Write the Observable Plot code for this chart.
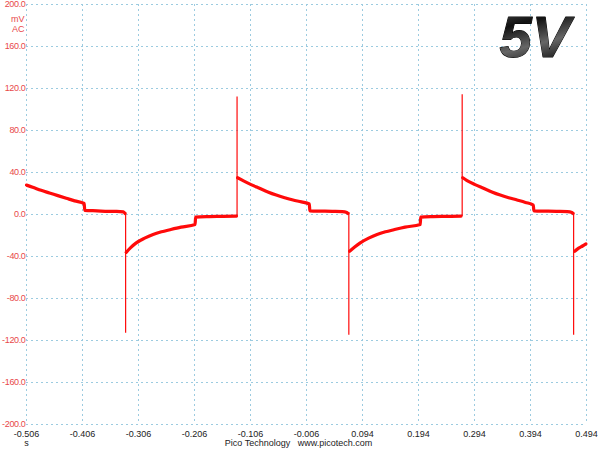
<!DOCTYPE html>
<html><head><meta charset="utf-8">
<script src="https://cdn.jsdelivr.net/npm/d3@7"></script>
<script src="https://cdn.jsdelivr.net/npm/@observablehq/plot@0.6"></script>
<style>html,body{margin:0;padding:0;background:#fff;}</style>
</head><body><div id="chart"></div>
<script>
// Tick labels
const xTicks = [-0.506, -0.406, -0.306, -0.206, -0.106, -0.006, 0.094, 0.194, 0.294, 0.394, 0.494];
const yTicks = [-200, -160, -120, -80, -40, 0, 40, 80, 120, 160, 200];

// Noisy trace key points (s, mV) with segment ids
const traceT = [
  -0.506, -0.495, -0.48, -0.465, -0.45, -0.435, -0.42, -0.403, -0.402, -0.38, -0.36, -0.345, -0.333, -0.330,
  -0.328, -0.32, -0.31, -0.295, -0.28, -0.265, -0.25, -0.23, -0.205, -0.204, -0.18, -0.155, -0.131,
  -0.129, -0.12, -0.105, -0.09, -0.075, -0.06, -0.045, -0.03, -0.015, -0.001, 0.000, 0.02, 0.04, 0.058, 0.066, 0.068,
  0.071, 0.08, 0.09, 0.105, 0.12, 0.135, 0.15, 0.17, 0.197, 0.198, 0.22, 0.245, 0.270,
  0.273, 0.28, 0.295, 0.31, 0.325, 0.34, 0.355, 0.37, 0.385, 0.399, 0.400, 0.42, 0.44, 0.46, 0.468, 0.470,
  0.473, 0.48, 0.487, 0.493
];
const traceV = [
  28, 26, 23, 20.5, 18, 15.5, 13, 10.5, 4, 3.5, 3, 3, 2.5, 1,
  -36, -31.5, -27, -22.5, -19, -16.5, -14.5, -12, -9.5, -2.5, -2, -1.8, -1.5,
  35, 32.5, 28.5, 25, 21.5, 18.5, 16, 13.8, 12, 10, 3.5, 3.2, 3, 2.8, 2, 1,
  -35, -31, -27, -22.5, -19, -16.5, -14.5, -12, -9.5, -2.5, -2, -1.8, -1.5,
  35, 32.5, 28.5, 25, 21.5, 18.5, 16, 13.8, 11.5, 9, 3.5, 3.2, 3, 2.8, 2, 1,
  -35, -32, -30, -28
];
const traceSeg = [
  1, 1, 1, 1, 1, 1, 1, 1, 1, 1, 1, 1, 1, 1,
  2, 2, 2, 2, 2, 2, 2, 2, 2, 2, 2, 2, 2,
  3, 3, 3, 3, 3, 3, 3, 3, 3, 3, 3, 3, 3, 3, 3, 3,
  4, 4, 4, 4, 4, 4, 4, 4, 4, 4, 4, 4, 4,
  5, 5, 5, 5, 5, 5, 5, 5, 5, 5, 5, 5, 5, 5, 5, 5,
  6, 6, 6, 6
];

// Spikes (s, from mV, to mV)
const spikeT = [-0.329, -0.130, 0.0696, 0.272, 0.471];
const spikeFrom = [2, -2, 2, -2, 2];
const spikeTo = [-113, 112, -115, 114, -115];

const trace = traceT.map((t, i) => ({t, v: traceV[i], seg: traceSeg[i]}));
const spikes = spikeT.map((t, i) => ({t, y1: spikeFrom[i], y2: spikeTo[i]}));

const red = "#ff0a0a";
const labelRed = "#e8484a";
const gridColor = "#9ccbe0";

const plot = Plot.plot({
  width: 600, height: 450,
  marginTop: 4, marginRight: 14, marginBottom: 26, marginLeft: 26,
  x: {domain: [-0.506, 0.494], label: null},
  y: {domain: [-200, 200], label: null},
  style: {fontFamily: "'Liberation Sans', Arial, sans-serif", background: "#fff", overflow: "visible"},
  marks: [
    Plot.gridX(xTicks, {stroke: gridColor, strokeOpacity: 1, strokeDasharray: "2,3"}),
    Plot.gridY(yTicks, {stroke: gridColor, strokeOpacity: 1, strokeDasharray: "2,3"}),
    Plot.axisX(xTicks, {tickSize: 0, tickPadding: 6, tickFormat: d => d.toFixed(3), fontSize: 9, fill: "#222", label: null}),
    Plot.axisY(yTicks, {tickSize: 0, tickPadding: 1, tickFormat: d => d.toFixed(1), fontSize: 9, fill: labelRed, label: null, className: "yax"}),
    Plot.line(trace, {x: "t", y: "v", z: "seg", stroke: red, strokeWidth: 3.2, curve: "monotone-x"}),
    Plot.ruleX(spikes, {x: "t", y1: "y1", y2: "y2", stroke: red, strokeWidth: 1.2}),
    Plot.text(["mV"], {frameAnchor: "top-left", dx: -2, dy: 11, textAnchor: "end", fill: labelRed, fontSize: 9}),
    Plot.text(["AC"], {frameAnchor: "top-left", dx: -2, dy: 21, textAnchor: "end", fill: labelRed, fontSize: 9}),
    Plot.text(["s"], {frameAnchor: "bottom-left", dx: 0, dy: 21, textAnchor: "middle", fill: "#222", fontSize: 9}),
    Plot.text(["Pico Technology   www.picotech.com"], {frameAnchor: "bottom", dx: -8, dy: 21, fill: "#222", fontSize: 9}),
    Plot.text(["5V"], {frameAnchor: "top-right", dx: -16, dy: 34, textAnchor: "end", lineAnchor: "middle",
      fontSize: 58, fontWeight: "bold", fontStyle: "italic", fill: "#222", stroke: "#000", strokeWidth: 1,
      fontFamily: "'Liberation Sans', Arial, sans-serif", className: "big5v"})
  ]
});

// metallic gradient for the "5V" label
const svg = d3.select(plot);
const defs = svg.insert("defs", ":first-child");
const g = defs.append("linearGradient").attr("id", "g5v").attr("x1", "0").attr("y1", "0").attr("x2", "0.3").attr("y2", "1");
g.append("stop").attr("offset", "0%").attr("stop-color", "#555");
g.append("stop").attr("offset", "35%").attr("stop-color", "#111");
g.append("stop").attr("offset", "70%").attr("stop-color", "#666");
g.append("stop").attr("offset", "100%").attr("stop-color", "#1a1a1a");
svg.selectAll(".big5v text, g.big5v text").attr("fill", "url(#g5v)");
svg.selectAll(".yax text, g.yax text").style("letter-spacing", "-0.35px");

document.getElementById("chart").appendChild(plot);
</script>
</body></html>
